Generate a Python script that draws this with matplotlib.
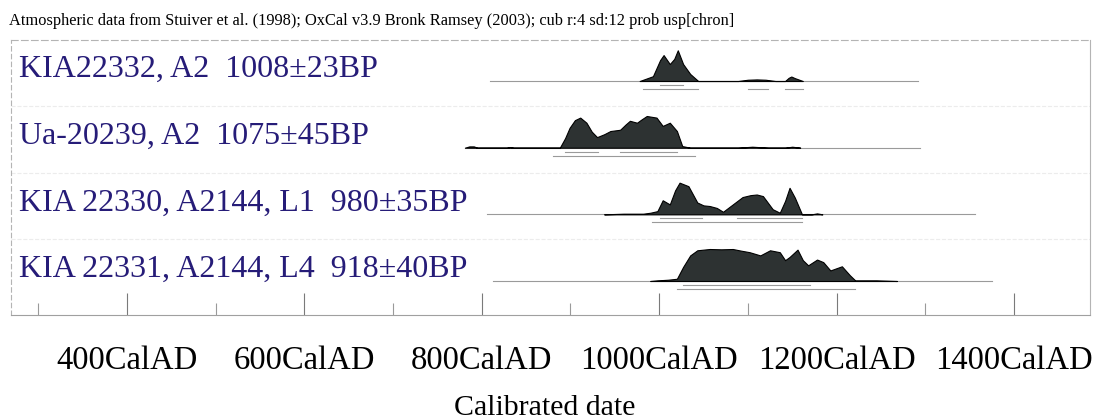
"""
OxCal style multiplot of four calibrated radiocarbon dates.
"""

import matplotlib
matplotlib.use('Agg')
import matplotlib.pyplot as plt
import matplotlib.transforms as mtransforms
import numpy as np

# sample labels, top to bottom
labels = ['KIA22332, A2  1008\u00b123BP',
          'Ua-20239, A2  1075\u00b145BP',
          'KIA 22330, A2144, L1  980\u00b135BP',
          'KIA 22331, A2144, L4  918\u00b140BP']

# probability distributions (calendar year AD, relative probability)
kia22332_years = [978, 986, 993, 1001, 1005, 1012, 1017, 1021, 1027, 1035, 1044,
                  1089, 1100, 1110, 1120, 1131, 1142, 1146, 1149, 1153, 1162]
kia22332_prob = [0.0, 0.08, 0.15, 0.65, 0.81, 0.53, 0.69, 0.96, 0.53, 0.22, 0.0,
                 0.0, 0.04, 0.05, 0.04, 0.0, 0.0, 0.1, 0.14, 0.09, 0.0]

ua20239_years = [781, 786, 791, 795, 828, 832, 836, 888, 894, 899, 905, 911, 918,
                 924, 930, 938, 945, 956, 962, 967, 975, 980, 986, 997, 1004,
                 1012, 1020, 1026, 1035, 1089, 1105, 1123, 1142, 1150, 1159]
ua20239_prob = [0.0, 0.04, 0.04, 0.0, 0.0, 0.02, 0.0, 0.0, 0.3, 0.62, 0.86, 0.94,
                0.78, 0.5, 0.33, 0.42, 0.52, 0.56, 0.72, 0.84, 0.78, 0.88, 0.99,
                0.94, 0.68, 0.78, 0.52, 0.05, 0.0, 0.0, 0.03, 0.0, 0.0, 0.03, 0.0]

kia22330_years = [938, 960, 982, 990, 998, 1004, 1012, 1018, 1023, 1033, 1043,
                  1050, 1057, 1065, 1072, 1083, 1094, 1103, 1110, 1117, 1128,
                  1136, 1142, 1147, 1153, 1161, 1172, 1178, 1184]
kia22330_prob = [0.0, 0.02, 0.02, 0.05, 0.1, 0.44, 0.31, 0.75, 0.99, 0.88, 0.37,
                 0.28, 0.26, 0.2, 0.08, 0.31, 0.54, 0.6, 0.62, 0.57, 0.16,
                 0.05, 0.42, 0.83, 0.52, 0.0, 0.0, 0.03, 0.0]

kia22331_years = [990, 998, 1010, 1020, 1027, 1035, 1043, 1057, 1070, 1083, 1092,
                  1102, 1114, 1125, 1136, 1142, 1147, 1156, 1162, 1168, 1178,
                  1185, 1193, 1206, 1215, 1221, 1245, 1268]
kia22331_prob = [0.0, 0.02, 0.04, 0.07, 0.44, 0.8, 0.96, 1.0, 0.99, 1.0, 0.95,
                 0.9, 0.8, 0.96, 0.9, 0.65, 0.75, 0.98, 0.65, 0.49, 0.67,
                 0.59, 0.33, 0.46, 0.18, 0.02, 0.02, 0.0]

years = [kia22332_years, ua20239_years, kia22330_years, kia22331_years]
probs = [kia22332_prob, ua20239_prob, kia22330_prob, kia22331_prob]

# extent of the thin baseline drawn under each distribution
line_start = [809, 781, 806, 813]
line_end = [1292, 1294, 1356, 1375]

# 68.2% and 95.4% ranges
sigma1 = [[(1001, 1027)],
          [(894, 931), (956, 1020)],
          [(1001, 1048), (1088, 1161)],
          [(1027, 1170)]]
sigma2 = [[(982, 1044), (1100, 1123), (1142, 1162)],
          [(880, 1040)],
          [(992, 1161)],
          [(1020, 1221)]]

major_ticks = [400, 600, 800, 1000, 1200, 1400]
minor_ticks = [300, 500, 700, 900, 1100, 1300]
tick_labels = ['%dCalAD' % t for t in major_ticks]

title = ('Atmospheric data from Stuiver et al. (1998); OxCal v3.9 Bronk Ramsey (2003); '
         'cub r:4 sd:12 prob usp[chron]')

plt.rcParams['font.family'] = ['Liberation Serif', 'DejaVu Serif']

fig = plt.figure(figsize=(10.95, 4.19), dpi=100)
ax = fig.add_axes([0.0100, 0.2482, 0.9854, 0.6563])

height = 0.48
row_label_tf = mtransforms.blended_transform_factory(ax.transAxes, ax.transData)
for i in range(len(labels)):
    x = np.array(years[i])
    y = i - height * np.array(probs[i])
    ax.plot([line_start[i], line_end[i]], [i, i], color='#9a9a9a', lw=0.8, zorder=1)
    ax.fill_between(x, i, y, facecolor='#2d3232', edgecolor='black', lw=0.8, zorder=2)
    for lo, hi in sigma1[i]:
        ax.plot([lo, hi], [i + 0.06, i + 0.06], color='#9a9a9a', lw=0.8)
    for lo, hi in sigma2[i]:
        ax.plot([lo, hi], [i + 0.12, i + 0.12], color='#9a9a9a', lw=0.8)
    ax.text(0.0074, i - 0.06, labels[i], color='#261c78', fontsize=23, va='baseline',
            ha='left', transform=row_label_tf)
    if i > 0:
        ax.axhline(i - 0.625, color='#ececec', lw=0.8, ls='--', zorder=0)

ax.set_xlim(269.2, 1485.7)
ax.set_ylim(3.51, -0.615)

ax.set_xticks(major_ticks)
ax.set_xticklabels(tick_labels, fontsize=23.5)
ax.set_xticks(minor_ticks, minor=True)
ax.set_yticks([])
ax.tick_params(axis='x', which='major', direction='in', length=16, width=0.8,
               color='#7a7a7a', pad=22)
ax.tick_params(axis='x', which='minor', direction='in', length=9, width=0.8,
               color='#9a9a9a')

for side in ['left', 'top', 'right']:
    ax.spines[side].set_color('#b4b4b4')
    ax.spines[side].set_linewidth(0.8)
ax.spines['left'].set_linestyle((0, (4, 3)))
ax.spines['top'].set_linestyle((0, (6, 3)))
ax.spines['bottom'].set_color('#a0a0a0')
ax.spines['bottom'].set_linewidth(0.8)

fig.text(0.008, 1 - 25 / 419.0, title, fontsize=11.8, va='baseline', ha='left')
fig.text(545 / 1095.0, 1 - 415 / 419.0, 'Calibrated date', fontsize=21.5,
         va='baseline', ha='center')

fig.savefig('out.png', dpi=100)
